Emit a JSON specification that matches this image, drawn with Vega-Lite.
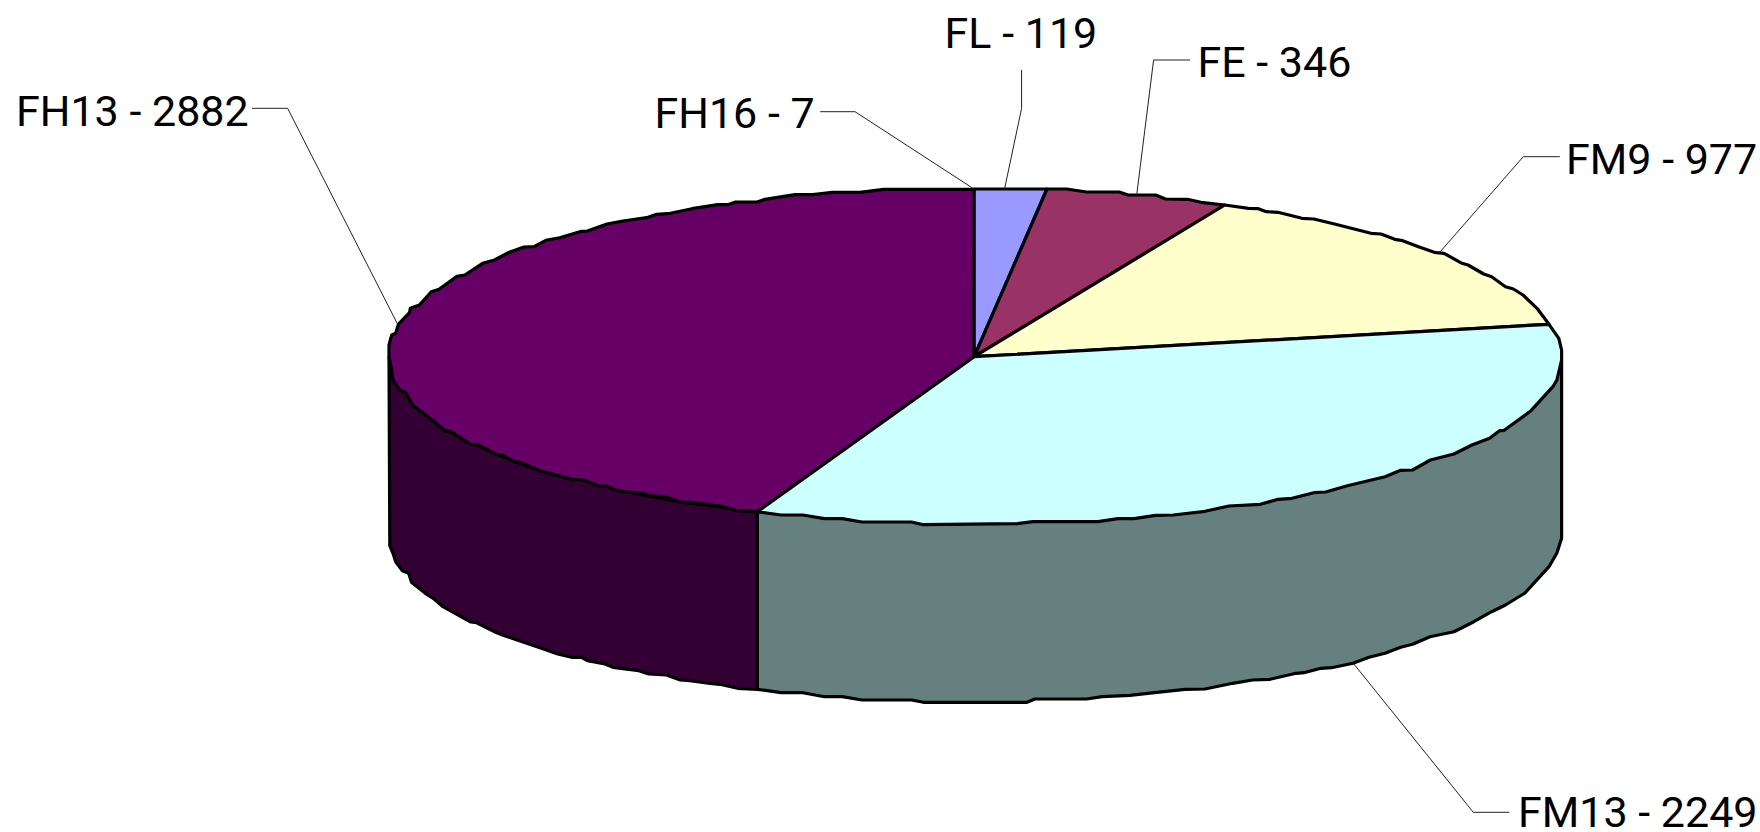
{"$schema":"https://vega.github.io/schema/vega-lite/v6.json","width":1760,"height":832,"padding":0,"autosize":{"type":"none"},"background":"white","view":{"stroke":null},
"datasets":{"shapes":[
{"part":"FH13 side","x":389,"y":356.7},{"part":"FH13 side","x":391.7,"y":370},{"part":"FH13 side","x":393,"y":380},{"part":"FH13 side","x":399.6,"y":390},{"part":"FH13 side","x":405.6,"y":392.3},{"part":"FH13 side","x":412.7,"y":405},{"part":"FH13 side","x":423.4,"y":413.3},{"part":"FH13 side","x":433.2,"y":420.7},{"part":"FH13 side","x":445,"y":430.7},{"part":"FH13 side","x":451,"y":431.7},{"part":"FH13 side","x":470.8,"y":444.3},{"part":"FH13 side","x":477.5,"y":444.7},{"part":"FH13 side","x":496.5,"y":454.3},{"part":"FH13 side","x":540,"y":470.7},{"part":"FH13 side","x":583.4,"y":480},{"part":"FH13 side","x":631,"y":492.7},{"part":"FH13 side","x":680.3,"y":502},{"part":"FH13 side","x":757.4,"y":511.7},{"part":"FH13 side","x":757.4,"y":689.3},{"part":"FH13 side","x":737.6,"y":688.3},{"part":"FH13 side","x":719.8,"y":684.3},{"part":"FH13 side","x":710,"y":683.3},{"part":"FH13 side","x":690,"y":680.7},{"part":"FH13 side","x":680.3,"y":680},{"part":"FH13 side","x":666.4,"y":675},{"part":"FH13 side","x":648.7,"y":674},{"part":"FH13 side","x":638.8,"y":670.7},{"part":"FH13 side","x":613,"y":667.3},{"part":"FH13 side","x":605,"y":664},{"part":"FH13 side","x":587.4,"y":660.7},{"part":"FH13 side","x":581.5,"y":657.3},{"part":"FH13 side","x":571.6,"y":657.3},{"part":"FH13 side","x":557.7,"y":654},{"part":"FH13 side","x":540,"y":647.7},{"part":"FH13 side","x":522.2,"y":641.7},{"part":"FH13 side","x":502.4,"y":635},{"part":"FH13 side","x":495.7,"y":632.3},{"part":"FH13 side","x":476.7,"y":622.7},{"part":"FH13 side","x":470.8,"y":622},{"part":"FH13 side","x":443,"y":606.7},{"part":"FH13 side","x":433.2,"y":598.3},{"part":"FH13 side","x":425.3,"y":593.3},{"part":"FH13 side","x":411.5,"y":582.3},{"part":"FH13 side","x":408.7,"y":573.3},{"part":"FH13 side","x":402.4,"y":570.7},{"part":"FH13 side","x":395.7,"y":561.7},{"part":"FH13 side","x":393,"y":553.3},{"part":"FH13 side","x":389.8,"y":545.7},{"part":"FH13 side","x":389,"y":356.7},
{"part":"FM13 side","x":757.4,"y":511.7},{"part":"FM13 side","x":962,"y":524},{"part":"FM13 side","x":1561.6,"y":360},{"part":"FM13 side","x":1561.6,"y":538.3},{"part":"FM13 side","x":1556.9,"y":553},{"part":"FM13 side","x":1549,"y":566.7},{"part":"FM13 side","x":1525,"y":593},{"part":"FM13 side","x":1505.5,"y":605},{"part":"FM13 side","x":1491.6,"y":611.7},{"part":"FM13 side","x":1473.8,"y":621.7},{"part":"FM13 side","x":1454,"y":631.7},{"part":"FM13 side","x":1430,"y":636.7},{"part":"FM13 side","x":1412.6,"y":644.3},{"part":"FM13 side","x":1400.7,"y":647.3},{"part":"FM13 side","x":1385,"y":653.3},{"part":"FM13 side","x":1369,"y":657.3},{"part":"FM13 side","x":1353,"y":663.3},{"part":"FM13 side","x":1331.5,"y":667.7},{"part":"FM13 side","x":1321,"y":668.3},{"part":"FM13 side","x":1303.9,"y":672.7},{"part":"FM13 side","x":1296,"y":673.3},{"part":"FM13 side","x":1270,"y":679.3},{"part":"FM13 side","x":1252.5,"y":680},{"part":"FM13 side","x":1232.7,"y":683.3},{"part":"FM13 side","x":1205,"y":689},{"part":"FM13 side","x":1185,"y":689.3},{"part":"FM13 side","x":1147.7,"y":693.3},{"part":"FM13 side","x":1130,"y":695.3},{"part":"FM13 side","x":1102.3,"y":696.7},{"part":"FM13 side","x":1086.5,"y":699},{"part":"FM13 side","x":1035,"y":699},{"part":"FM13 side","x":1027,"y":702.3},{"part":"FM13 side","x":923.4,"y":702.3},{"part":"FM13 side","x":911.5,"y":700},{"part":"FM13 side","x":862,"y":700},{"part":"FM13 side","x":842.3,"y":696.7},{"part":"FM13 side","x":824.5,"y":696.7},{"part":"FM13 side","x":802.8,"y":692.7},{"part":"FM13 side","x":781,"y":692.7},{"part":"FM13 side","x":757.4,"y":689.3},{"part":"FM13 side","x":757.4,"y":511.7},
{"part":"FH13","x":974.2,"y":356.7},{"part":"FH13","x":974.7,"y":189.3},{"part":"FH13","x":883.8,"y":189.3},{"part":"FH13","x":860,"y":192.3},{"part":"FH13","x":832.5,"y":192.3},{"part":"FH13","x":812.7,"y":194.7},{"part":"FH13","x":795,"y":194.7},{"part":"FH13","x":765,"y":199.3},{"part":"FH13","x":757,"y":202},{"part":"FH13","x":735.6,"y":202},{"part":"FH13","x":727.7,"y":204.7},{"part":"FH13","x":717.8,"y":204.7},{"part":"FH13","x":692,"y":208.7},{"part":"FH13","x":670.4,"y":213.3},{"part":"FH13","x":656.6,"y":214.3},{"part":"FH13","x":646.7,"y":217.7},{"part":"FH13","x":623,"y":221},{"part":"FH13","x":607,"y":224},{"part":"FH13","x":587.4,"y":231},{"part":"FH13","x":581.5,"y":231.3},{"part":"FH13","x":559.7,"y":237.7},{"part":"FH13","x":545.9,"y":240.3},{"part":"FH13","x":534,"y":246.7},{"part":"FH13","x":524,"y":247},{"part":"FH13","x":508.3,"y":252.7},{"part":"FH13","x":494.5,"y":260},{"part":"FH13","x":482.6,"y":263.3},{"part":"FH13","x":464.9,"y":275},{"part":"FH13","x":457,"y":276.3},{"part":"FH13","x":439,"y":289.3},{"part":"FH13","x":431.3,"y":291.7},{"part":"FH13","x":419.4,"y":305},{"part":"FH13","x":410.3,"y":308.3},{"part":"FH13","x":409.5,"y":312.7},{"part":"FH13","x":398.5,"y":324},{"part":"FH13","x":395.7,"y":333.3},{"part":"FH13","x":391.7,"y":335},{"part":"FH13","x":389,"y":345},{"part":"FH13","x":389,"y":356.7},{"part":"FH13","x":391.7,"y":370},{"part":"FH13","x":393,"y":380},{"part":"FH13","x":399.6,"y":390},{"part":"FH13","x":405.6,"y":392.3},{"part":"FH13","x":412.7,"y":405},{"part":"FH13","x":423.4,"y":413.3},{"part":"FH13","x":433.2,"y":420.7},{"part":"FH13","x":445,"y":430.7},{"part":"FH13","x":451,"y":431.7},{"part":"FH13","x":470.8,"y":444.3},{"part":"FH13","x":477.5,"y":444.7},{"part":"FH13","x":496.5,"y":454.3},{"part":"FH13","x":502.4,"y":455},{"part":"FH13","x":514.3,"y":461.7},{"part":"FH13","x":520,"y":462.3},{"part":"FH13","x":540,"y":470.7},{"part":"FH13","x":559.7,"y":476},{"part":"FH13","x":571.6,"y":479.3},{"part":"FH13","x":583.4,"y":480},{"part":"FH13","x":599,"y":486},{"part":"FH13","x":607,"y":486},{"part":"FH13","x":615,"y":490},{"part":"FH13","x":631,"y":492.7},{"part":"FH13","x":640.8,"y":492.7},{"part":"FH13","x":650.6,"y":495.7},{"part":"FH13","x":666.4,"y":497},{"part":"FH13","x":680.3,"y":502},{"part":"FH13","x":690,"y":502},{"part":"FH13","x":713.9,"y":505.3},{"part":"FH13","x":719.8,"y":505.7},{"part":"FH13","x":737.6,"y":510.7},{"part":"FH13","x":757.4,"y":511.7},{"part":"FH13","x":974.2,"y":356.7},
{"part":"FL","x":974.2,"y":356.7},{"part":"FL","x":974.2,"y":189},{"part":"FL","x":1047,"y":189},{"part":"FL","x":974.2,"y":356.7},
{"part":"FE","x":974.2,"y":356.7},{"part":"FE","x":1047,"y":189},{"part":"FE","x":1066.7,"y":189},{"part":"FE","x":1086.5,"y":192},{"part":"FE","x":1119.3,"y":192},{"part":"FE","x":1128,"y":195},{"part":"FE","x":1155.7,"y":195},{"part":"FE","x":1165.5,"y":199},{"part":"FE","x":1187.3,"y":199.3},{"part":"FE","x":1201,"y":202.3},{"part":"FE","x":1224.8,"y":205},{"part":"FE","x":974.2,"y":356.7},
{"part":"FM9","x":974.2,"y":356.7},{"part":"FM9","x":1224.8,"y":205},{"part":"FM9","x":1248.5,"y":208.3},{"part":"FM9","x":1258.4,"y":208.7},{"part":"FM9","x":1266.3,"y":211.7},{"part":"FM9","x":1278,"y":212.3},{"part":"FM9","x":1301.9,"y":218.3},{"part":"FM9","x":1313.8,"y":219},{"part":"FM9","x":1335.5,"y":224.3},{"part":"FM9","x":1349.3,"y":227.7},{"part":"FM9","x":1371,"y":233.3},{"part":"FM9","x":1381,"y":234},{"part":"FM9","x":1394.8,"y":239.3},{"part":"FM9","x":1402.7,"y":240.7},{"part":"FM9","x":1418.5,"y":246.7},{"part":"FM9","x":1434.3,"y":252.3},{"part":"FM9","x":1444,"y":253.3},{"part":"FM9","x":1462,"y":263.3},{"part":"FM9","x":1468,"y":265},{"part":"FM9","x":1483.7,"y":274},{"part":"FM9","x":1491.6,"y":276.7},{"part":"FM9","x":1505.5,"y":286.7},{"part":"FM9","x":1513.4,"y":289},{"part":"FM9","x":1523,"y":295},{"part":"FM9","x":1537,"y":308.3},{"part":"FM9","x":1549,"y":324.3},{"part":"FM9","x":974.2,"y":356.7},
{"part":"FM13","x":974.2,"y":356.7},{"part":"FM13","x":1549,"y":324.3},{"part":"FM13","x":1558.8,"y":338.3},{"part":"FM13","x":1561.6,"y":350},{"part":"FM13","x":1561.6,"y":360},{"part":"FM13","x":1556.9,"y":380},{"part":"FM13","x":1552.9,"y":386.7},{"part":"FM13","x":1531,"y":410.7},{"part":"FM13","x":1525.2,"y":415},{"part":"FM13","x":1503.5,"y":430.7},{"part":"FM13","x":1499.5,"y":430.7},{"part":"FM13","x":1489.6,"y":438.3},{"part":"FM13","x":1471.9,"y":445},{"part":"FM13","x":1454,"y":454},{"part":"FM13","x":1430.4,"y":460},{"part":"FM13","x":1412.6,"y":470},{"part":"FM13","x":1400.7,"y":470.3},{"part":"FM13","x":1385,"y":476.7},{"part":"FM13","x":1347.4,"y":485.7},{"part":"FM13","x":1325.6,"y":492},{"part":"FM13","x":1313.8,"y":492.7},{"part":"FM13","x":1292,"y":498.3},{"part":"FM13","x":1278,"y":499.3},{"part":"FM13","x":1260.4,"y":504.3},{"part":"FM13","x":1228.8,"y":506},{"part":"FM13","x":1205,"y":511.3},{"part":"FM13","x":1173.4,"y":515},{"part":"FM13","x":1155.7,"y":515.3},{"part":"FM13","x":1134,"y":518.7},{"part":"FM13","x":1118,"y":518.7},{"part":"FM13","x":1098,"y":521.7},{"part":"FM13","x":1033,"y":521.7},{"part":"FM13","x":1017.3,"y":523.7},{"part":"FM13","x":923.4,"y":524.7},{"part":"FM13","x":911.5,"y":522},{"part":"FM13","x":862,"y":522},{"part":"FM13","x":842.3,"y":518.7},{"part":"FM13","x":824.5,"y":518.7},{"part":"FM13","x":802.8,"y":515},{"part":"FM13","x":781,"y":515},{"part":"FM13","x":757.4,"y":511.7},{"part":"FM13","x":974.2,"y":356.7}
],
"leaders":[
{"label":"FH13","x":252,"y":108.3},{"label":"FH13","x":287.6,"y":108.3},{"label":"FH13","x":398,"y":325},
{"label":"FH16","x":820.2,"y":111.7},{"label":"FH16","x":855,"y":111.7},{"label":"FH16","x":974,"y":189},
{"label":"FL","x":1021.6,"y":70},{"label":"FL","x":1021.6,"y":108.3},{"label":"FL","x":1004.7,"y":188.3},
{"label":"FE","x":1190,"y":60},{"label":"FE","x":1153.6,"y":60},{"label":"FE","x":1136.7,"y":195},
{"label":"FM9","x":1559.8,"y":156.7},{"label":"FM9","x":1523.3,"y":156.7},{"label":"FM9","x":1439.4,"y":252.7},
{"label":"FM13","x":1353.3,"y":663.3},{"label":"FM13","x":1473.3,"y":812.3},{"label":"FM13","x":1509.3,"y":812.3}
],
"labels":[
{"text":"FH13 - 2882","x":16,"y":125.5},{"text":"FH16 - 7","x":654.5,"y":127.5},{"text":"FL - 119","x":944.6,"y":47.5},{"text":"FE - 346","x":1197.4,"y":76.5},{"text":"FM9 - 977","x":1566,"y":173.5},{"text":"FM13 - 2249","x":1518,"y":827}
]},
"layer":[
{"data":{"name":"shapes"},"mark":{"type":"line","stroke":"black","strokeWidth":3.2,"strokeJoin":"round","clip":false},
"encoding":{"x":{"field":"x","type":"quantitative","scale":{"domain":[0,1760],"nice":false,"zero":false},"axis":null},"y":{"field":"y","type":"quantitative","scale":{"domain":[832,0],"nice":false,"zero":false},"axis":null},"detail":{"field":"part"},"order":{"value":null},
"fill":{"field":"part","type":"nominal","legend":null,"scale":{"domain":["FH13 side","FM13 side","FH13","FL","FE","FM9","FM13"],"range":["#330033","#668080","#660066","#9999FF","#993366","#FFFFCC","#CCFFFF"]}}}},
{"data":{"name":"leaders"},"mark":{"type":"line","stroke":"#222222","strokeWidth":1},
"encoding":{"x":{"field":"x","type":"quantitative"},"y":{"field":"y","type":"quantitative"},"detail":{"field":"label"},"order":{"value":null}}},
{"data":{"name":"labels"},"mark":{"type":"text","font":"Roboto","fontSize":43,"align":"left","baseline":"alphabetic","color":"black"},
"encoding":{"x":{"field":"x","type":"quantitative"},"y":{"field":"y","type":"quantitative"},"text":{"field":"text"}}}
]}
